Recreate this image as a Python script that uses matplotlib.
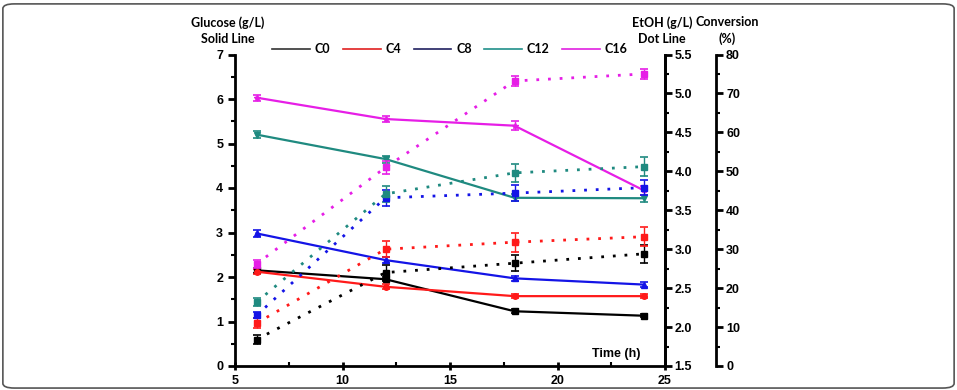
import matplotlib
matplotlib.use("Agg")
import matplotlib.pyplot as plt
from matplotlib.patches import FancyBboxPatch
from matplotlib.lines import Line2D
import numpy as np

time_h = [6, 12, 18, 24]
labels = ["C0", "C4", "C8", "C12", "C16"]
colors = ["#000000", "#ff1a1a", "#1414e6", "#1f8a80", "#e61ee6"]
legend_colors = ["#333333", "#e02020", "#202060", "#20908a", "#e020e0"]

glucose = {
    "C0": [2.15, 1.95, 1.23, 1.13],
    "C4": [2.12, 1.78, 1.57, 1.57],
    "C8": [2.98, 2.38, 1.97, 1.83],
    "C12": [5.20, 4.65, 3.78, 3.77],
    "C16": [6.03, 5.55, 5.40, 3.95],
}
glucose_err = {
    "C0": [0.05, 0.05, 0.04, 0.04],
    "C4": [0.06, 0.06, 0.05, 0.05],
    "C8": [0.08, 0.07, 0.05, 0.05],
    "C12": [0.07, 0.08, 0.08, 0.08],
    "C16": [0.07, 0.06, 0.10, 0.10],
}
etoh = {
    "C0": [1.84, 2.70, 2.82, 2.94],
    "C4": [2.05, 3.00, 3.09, 3.16],
    "C8": [2.15, 3.66, 3.72, 3.79],
    "C12": [2.32, 3.71, 3.98, 4.06],
    "C16": [2.81, 4.05, 5.16, 5.25],
}
etoh_err = {
    "C0": [0.06, 0.10, 0.10, 0.12],
    "C4": [0.06, 0.10, 0.12, 0.12],
    "C8": [0.04, 0.10, 0.10, 0.10],
    "C12": [0.05, 0.10, 0.12, 0.12],
    "C16": [0.05, 0.08, 0.07, 0.06],
}
solid_markers = ["s", "o", "^", "v", "*"]

plt.rcParams['font.family'] = ['Liberation Sans', 'DejaVu Sans']

fig = plt.figure(figsize=(9.57, 3.90), dpi=100)
fig.patch.set_facecolor("white")
frame = FancyBboxPatch((0.003, 0.005), 0.994, 0.985, boxstyle="round,pad=0,rounding_size=0.012",
                       transform=fig.transFigure, fill=False, edgecolor="#555555", lw=1.2)
fig.patches.append(frame)

ax = fig.add_axes([235/957, 1-366/390, 430/957, (366-54.5)/390])
ax2 = ax.twinx()
ax3 = ax.twinx()

for i, lab in enumerate(labels):
    ax.errorbar(time_h, glucose[lab], yerr=glucose_err[lab], color=colors[i], lw=1.6,
                marker=solid_markers[i], ms=4, capsize=3, elinewidth=1, capthick=1.2, zorder=3)
    ax2.errorbar(time_h, etoh[lab], yerr=etoh_err[lab], color=colors[i], lw=2.0,
                 linestyle=(0, (1, 3.2)), marker="s", ms=4, capsize=3, elinewidth=1,
                 capthick=1.2, zorder=3)

ax.set_xlim(5, 25)
ax.set_ylim(0, 7)
ax2.set_ylim(1.5, 5.5)
ax3.set_ylim(0, 80)

ax.set_xticks([5, 10, 15, 20, 25])
ax.set_xticks(np.arange(5, 25.1, 2.5), minor=True)
ax.set_yticks(range(0, 8))
ax.set_yticks(np.arange(0, 7.01, 0.5), minor=True)
ax2.set_yticks(np.arange(1.5, 5.51, 0.5))
ax2.set_yticks(np.arange(1.5, 5.51, 0.25), minor=True)
ax2.set_yticklabels([f"{v:.1f}" for v in np.arange(1.5, 5.51, 0.5)])
ax3.set_yticks(range(0, 81, 10))
ax3.set_yticks(range(0, 81, 5), minor=True)

ax3.spines["right"].set_position(("outward", 37))
for a in (ax, ax2, ax3):
    a.spines["top"].set_visible(False)
    for s in a.spines.values():
        s.set_linewidth(2)
ax2.spines["left"].set_visible(False)
ax3.spines["left"].set_visible(False)
ax2.spines["bottom"].set_visible(False)
ax3.spines["bottom"].set_visible(False)

tick_font = dict(labelsize=9)
ax.tick_params(axis="y", which="major", direction="out", length=5, width=2, **tick_font)
ax.tick_params(axis="y", which="minor", direction="out", length=3, width=1.5)
ax.tick_params(axis="x", which="major", direction="inout", length=6, width=2, **tick_font)
ax.tick_params(axis="x", which="minor", direction="in", length=3, width=1.5)
for a in (ax2, ax3):
    a.tick_params(axis="y", which="major", direction="out", length=5, width=2, pad=2, **tick_font)
    a.tick_params(axis="y", which="minor", direction="out", length=3, width=1.5)
for a in (ax, ax2, ax3):
    for t in a.get_xticklabels() + a.get_yticklabels():
        t.set_fontweight("bold")

ax.text((640-235)/430, 0.02, "Time (h)", transform=ax.transAxes, ha="right", va="bottom",
        fontsize=9, fontweight="bold")

title_kw = dict(ha="center", va="top", fontsize=9, fontweight="bold", family="Lato",
                linespacing=1.45)
fig.text(228/957, 1-16/390, "Glucose (g/L)\nSolid Line", **title_kw)
fig.text(662/957, 1-16/390, "EtOH (g/L)\nDot Line", **title_kw)
fig.text(727/957, 1-16/390, "Conversion\n(%)", **title_kw)

handles = [Line2D([0], [0], color=legend_colors[i], lw=1.2) for i in range(len(labels))]
leg = fig.legend(handles, labels, loc="center", bbox_to_anchor=(450/957, 1-49/390), ncol=5,
                 frameon=False, handlelength=3.0, columnspacing=1.0, handletextpad=0.4,
                 borderpad=0, prop=dict(family="Lato", weight="bold", size=9))

fig.savefig("out.png", dpi=100)
